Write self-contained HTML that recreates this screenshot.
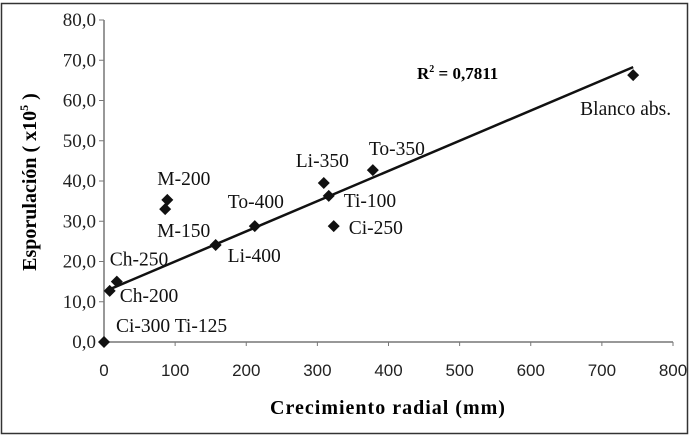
<!DOCTYPE html>
<html><head><meta charset="utf-8"><style>
html,body{margin:0;padding:0;background:#fff;}
svg{display:block;}
.serif{font-family:"Liberation Serif",serif;}
.sans{font-family:"Liberation Sans",sans-serif;}
</style></head><body>
<svg id="chart" width="694" height="437" viewBox="0 0 694 437">
<rect x="1.5" y="3.5" width="686" height="430" fill="#fff" stroke="#333" stroke-width="1.5"/>
<g id="axes"></g>
<g id="marks"></g>
<text x="417" y="79" class="serif" font-size="17" font-weight="bold">R<tspan font-size="10" dy="-7">2</tspan><tspan dy="7"> = 0,7811</tspan></text>
<text x="388" y="414" class="serif" font-size="20" font-weight="bold" letter-spacing="1" text-anchor="middle">Crecimiento radial (mm)</text>
<text transform="translate(36,182) rotate(-90)" class="serif" font-size="20" font-weight="bold" text-anchor="middle">Esporulación ( x10<tspan font-size="12" dy="-8">5</tspan><tspan dy="8"> )</tspan></text>
</svg>
<script>
const names=["Ci-300 Ti-125","Ch-200","Ch-250","M-150","M-200","Li-400","To-400","Li-350","Ti-100","Ci-250","To-350","Blanco abs."];
const xVals=[0,8,18,86,89,157,212,309,316,323,378,744];
const yVals=[0,12.7,15,33,35.3,24.1,28.8,39.5,36.3,28.8,42.7,66.3];
const labelDx=[12,10,-7,-8,-10,12,-27,-28,15,15,-4,-53];
const labelDy=[-10,11,-16,28,-15,17,-18,-16,11,8,-15,40];
const xTicks=[0,100,200,300,400,500,600,700,800];
const yTicks=[0,10,20,30,40,50,60,70,80];
const yTickLabels=["0,0","10,0","20,0","30,0","40,0","50,0","60,0","70,0","80,0"];
const trendSlope=0.075, trendIntercept=12.5, trendX0=5, trendX1=744;
const X=v=>104+v*(673-104)/800;
const Y=v=>342-v*(342-20)/80;
const NS="http://www.w3.org/2000/svg";
const axes=document.getElementById('axes'), marks=document.getElementById('marks');
function mk(tag,attrs,parent){const e=document.createElementNS(NS,tag);for(const k in attrs)e.setAttribute(k,attrs[k]);parent.appendChild(e);return e;}
let l=mk('line',{x1:X(0),y1:Y(0),x2:X(800),y2:Y(0),stroke:'#777','stroke-width':1.5},axes);


l=mk('line',{x1:X(0),y1:Y(0),x2:X(0),y2:Y(80),stroke:'#777','stroke-width':1.5},axes);


xTicks.forEach(t=>{
 const tk=mk('line',{x1:X(t),y1:Y(0),x2:X(t),y2:Y(0)+4,stroke:'#777'},axes);
 
 
 const tx=mk('text',{x:X(t),y:376,'text-anchor':'middle','font-size':17,class:'sans',fill:'#222'},axes);
 tx.textContent=t;
 
 
});
yTicks.forEach((t,i)=>{
 const tk=mk('line',{x1:X(0)-5,y1:Y(t),x2:X(0),y2:Y(t),stroke:'#777'},axes);
 
 
 const tx=mk('text',{x:96,y:Y(t)+6,'text-anchor':'end','font-size':19,class:'serif',fill:'#222'},axes);
 tx.textContent=yTickLabels[i];
 
 
});
const tl=mk('line',{x1:X(trendX0),y1:Y(trendIntercept+trendSlope*trendX0),x2:X(trendX1),y2:Y(trendIntercept+trendSlope*trendX1),stroke:'#111','stroke-width':2.5},marks);


xVals.forEach((v,i)=>{
 const cx=X(v), cy=Y(yVals[i]), s=6;
 const p=mk('polygon',{points:`${cx},${cy-s} ${cx+s},${cy} ${cx},${cy+s} ${cx-s},${cy}`,fill:'#111'},marks);
 
 
 const t=mk('text',{x:cx+labelDx[i],y:cy+labelDy[i],'font-size':19.5,class:'serif',fill:'#111'},marks);
 t.textContent=names[i];
 
 
});
</script>
</body></html>
